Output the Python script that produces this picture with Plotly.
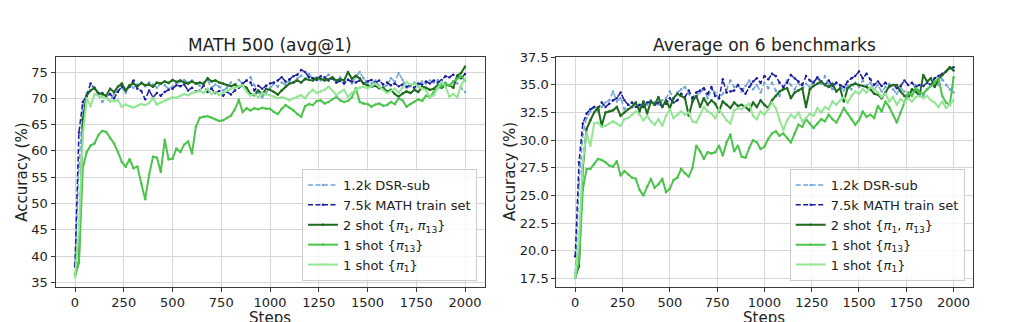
import plotly.graph_objects as go

steps = list(range(0, 2001, 20))

# ---- MATH 500 (avg@1) ----
math500_dsr_sub = [
    38.5, 57.0, 68.5, 71.0, 71.5, 72.0, 70.5, 69.3, 70.1, 69.5,
    70.8, 71.5, 72.0, 71.0, 72.5, 72.0, 72.6, 73.0, 72.3, 73.0,
    72.6, 72.0, 72.8, 72.5, 71.8, 72.2, 72.8, 73.2, 73.5, 73.0,
    73.4, 72.8, 72.4, 73.0, 73.5, 72.0, 72.6, 72.2, 71.5, 72.0,
    73.0, 72.5, 73.5, 72.8, 73.4, 74.0, 72.5, 71.0, 70.2, 71.0,
    72.0, 72.8, 72.2, 73.0, 72.6, 73.4, 73.0, 73.8, 74.3, 73.5,
    74.6, 73.8, 74.0, 73.4, 73.8, 74.5, 73.8, 73.0, 74.0, 73.2,
    73.6, 72.8, 74.0, 75.0, 73.8, 73.0, 72.8, 73.4, 72.4, 72.0,
    72.5, 73.8, 73.2, 74.8, 73.5, 72.0, 72.3, 73.0, 72.4, 73.2,
    72.8, 73.4, 73.0, 73.5, 72.6, 73.0, 72.5, 73.2, 72.8, 72.0,
    71.2,
]
math500_math_train = [
    38.0, 63.5, 69.3, 70.5, 72.8, 71.8, 70.8, 71.0, 70.3, 70.8,
    70.0, 71.2, 72.3, 71.5, 72.2, 73.4, 71.8, 71.4, 69.8, 71.5,
    70.2, 71.0, 70.5, 71.2, 71.6, 71.8, 72.5, 72.3, 72.6, 71.5,
    72.0, 71.3, 71.5, 72.4, 71.2, 71.8, 71.0, 71.4, 70.5, 71.2,
    70.7, 71.5, 72.0, 72.8, 73.4, 73.0, 71.5, 72.4, 71.8, 72.4,
    72.8, 73.0, 73.4, 74.0, 73.2, 73.6, 74.2, 74.5, 75.4, 75.0,
    74.0, 73.8, 73.5, 74.2, 74.0, 73.4, 73.8, 73.0, 73.3, 72.8,
    73.5, 73.2, 73.0, 73.4, 72.8, 73.2, 73.5, 73.0, 73.4, 72.6,
    73.0, 72.5, 72.8, 72.3, 72.6, 72.2, 72.5, 72.0, 72.8, 72.6,
    73.2, 72.8, 73.4, 73.0, 73.5, 74.2, 74.0, 74.5, 74.2, 73.8,
    74.6,
]
math500_two_shot = [
    36.5, 38.8, 66.0, 70.5, 71.5, 72.0, 71.0, 70.8, 70.5, 71.8,
    71.2, 72.2, 72.8, 71.5, 72.5, 72.8, 72.3, 72.9, 72.5, 72.6,
    72.2, 73.0, 72.8, 73.2, 72.9, 73.5, 73.1, 73.4, 73.0, 72.8,
    73.2, 72.8, 73.0, 72.7, 73.8, 73.2, 73.4, 73.0, 72.8, 72.5,
    72.3, 72.6, 72.1, 72.4, 72.0, 70.8, 70.6, 71.5, 70.8, 71.8,
    71.6, 71.2, 70.7, 71.5, 72.2, 72.8, 73.0, 73.4, 73.0, 73.7,
    73.5, 73.4, 73.8, 73.7, 73.4, 73.6, 74.0, 73.4, 73.6, 73.4,
    75.0, 73.7, 74.3, 73.8, 72.8, 72.5, 72.2, 72.4, 71.9, 72.0,
    71.3, 71.6, 70.8, 70.3, 70.9, 71.3, 71.0, 71.6, 71.2, 72.2,
    72.0, 71.6, 71.8, 72.5, 72.0, 72.5, 72.5, 72.0, 74.3, 74.8,
    76.0,
]
math500_one_shot_p13 = [
    36.0, 38.9, 56.7, 59.8, 61.0, 61.4, 63.0, 63.8, 63.6, 62.4,
    61.4, 59.8, 57.9, 57.0, 58.4, 56.7, 57.0, 53.8, 50.8, 55.4,
    58.9, 58.7, 56.0, 62.1, 58.4, 58.5, 60.4, 59.8, 61.2, 61.8,
    59.5, 64.6, 66.3, 66.5, 66.6, 66.3, 66.0, 65.7, 65.8, 66.3,
    66.7, 67.9, 69.7, 67.4, 68.1, 67.7, 68.1, 67.9, 68.2, 68.0,
    68.0, 67.4, 67.0, 68.0, 68.7, 68.2, 67.7, 67.0, 66.5, 68.5,
    68.9, 68.7, 69.5, 69.6, 69.0, 69.3, 69.8, 70.3, 69.6, 69.3,
    69.5, 70.2, 71.9, 69.3, 69.0, 68.9, 68.4, 68.8, 69.0, 68.6,
    68.7, 69.3, 68.9, 70.0, 69.6, 68.4, 68.9, 69.3, 69.8, 69.5,
    70.5, 70.2, 71.2, 71.9, 72.3, 72.8, 72.4, 73.2, 73.7, 74.2,
    73.4,
]
math500_one_shot_p1 = [
    36.0, 45.0, 63.0, 70.0, 68.5, 70.8, 70.5, 70.2, 70.0, 69.4,
    69.5, 69.6, 68.4, 68.8, 68.5, 68.2, 68.6, 68.9, 68.7, 69.1,
    70.0, 68.8, 69.2, 69.5, 69.8, 70.2, 70.1, 70.5, 70.8, 70.6,
    71.0, 71.2, 71.4, 71.0, 71.8, 70.8, 71.2, 70.6, 71.0, 71.5,
    71.8, 72.0, 72.3, 72.5, 71.2, 70.5, 70.8, 70.2, 71.0, 70.7,
    70.6, 70.3, 70.0, 70.2, 70.0, 69.6, 70.0, 70.3, 70.6, 70.0,
    71.0, 71.6, 71.0, 71.3, 71.6, 72.2, 71.5, 70.6, 71.2, 71.6,
    70.3, 71.0, 71.6, 72.0, 72.2, 71.9, 72.3, 72.8, 72.2, 71.6,
    71.0, 71.4, 71.8, 71.0, 72.0, 73.1, 72.6, 72.8, 72.2, 71.9,
    71.5, 70.3, 70.6, 72.0, 73.1, 72.2, 70.3, 70.8, 70.2, 72.5,
    73.7,
]

# ---- Average on 6 benchmarks ----
avg6_dsr_sub = [
    18.0, 26.0, 30.5, 32.0, 32.6, 33.0, 32.6, 33.0, 33.4, 33.6,
    34.4, 33.5, 33.8, 32.8, 33.2, 33.0, 33.4, 33.0, 33.5, 33.2,
    33.6, 33.4, 33.2, 33.6, 33.8, 34.4, 33.8, 34.3, 34.6, 34.8,
    34.2, 33.6, 34.0, 34.3, 34.6, 33.8, 34.6, 34.3, 33.8, 34.2,
    34.6, 35.4, 34.8, 35.0, 34.4, 34.9, 35.4, 34.6, 35.0, 34.3,
    35.2, 34.7, 35.2, 34.5, 34.0, 34.7, 35.4, 35.0, 34.6, 35.2,
    34.6, 35.1, 34.8, 35.3, 35.6, 35.1, 35.8, 35.0, 34.6, 35.2,
    34.8, 34.5, 35.0, 34.6, 35.2, 34.8, 35.4, 34.9, 35.2, 34.6,
    35.0, 34.4, 34.8, 35.1, 34.6, 34.2, 34.8, 34.4, 33.9, 34.5,
    35.0, 34.4, 34.0, 34.6, 34.9, 35.3, 35.0, 35.5, 35.0, 34.6,
    34.3,
]
avg6_math_train = [
    19.5, 28.0, 31.5, 32.4, 32.8, 33.0, 32.8, 33.4, 33.0, 33.3,
    33.6, 33.8, 34.3, 33.6, 33.2, 33.4, 33.0, 33.2, 33.0, 33.4,
    33.5, 33.2, 33.4, 33.0, 33.3, 33.8, 33.4, 33.6, 34.2, 33.9,
    34.5, 33.8, 34.3, 34.5, 34.7, 34.2, 34.8, 34.0, 33.8, 35.5,
    34.3, 34.4, 34.5, 35.0, 34.6, 34.2, 34.8, 35.3, 35.6, 35.2,
    35.8, 35.5, 36.0, 35.8, 35.2, 34.8, 35.2, 35.9, 35.6, 35.3,
    35.0, 35.8, 35.4, 35.2, 35.7, 35.3, 35.0, 35.4, 34.9, 35.2,
    35.0, 34.8, 35.3, 35.6, 35.8, 36.2, 35.6, 36.0, 35.5, 35.0,
    35.3, 34.9, 35.2, 34.8, 35.0, 34.7, 34.9, 35.4, 35.0, 35.2,
    34.8, 35.0, 34.9, 35.2, 35.0, 35.6, 35.8, 36.0, 36.2, 36.5,
    36.6,
]
avg6_two_shot = [
    17.6, 18.6, 27.5, 31.0, 31.8, 32.5, 33.0, 31.3, 32.5, 32.6,
    32.7, 33.0, 32.2, 32.5, 32.8, 33.0, 33.4, 32.6, 33.5, 32.4,
    33.5, 33.2, 33.9, 33.0, 33.6, 32.9, 33.8, 34.2, 34.0, 33.8,
    32.2, 33.5, 34.0, 33.0, 33.8, 33.2, 33.6, 33.3, 32.6, 33.5,
    33.2, 32.9, 33.4, 33.1, 33.2, 33.0, 32.7, 33.4, 33.0, 33.6,
    33.2, 32.9, 33.6, 34.0, 34.4, 34.6, 34.7, 33.8, 34.3, 34.5,
    34.7, 33.0, 34.6, 34.9, 35.1, 35.3, 35.0, 34.8, 35.1, 34.4,
    34.7, 33.5, 34.7, 35.0, 35.1, 35.0, 34.9, 34.8, 34.6, 34.2,
    34.1, 33.8, 34.3, 34.9, 35.0, 35.0, 34.4, 34.0, 33.8, 34.6,
    34.4, 34.0, 35.9, 35.3, 35.6, 34.8, 35.5, 35.9, 36.2, 36.6,
    36.3,
]
avg6_one_shot_p13 = [
    17.6, 19.0, 25.5, 27.4, 27.4, 27.8, 28.3, 28.2, 28.0, 27.7,
    27.6, 28.1, 26.8, 27.2, 26.9, 26.6, 26.5, 25.5, 25.0, 25.8,
    26.5, 25.7, 26.0, 26.5, 25.3, 25.6, 26.4, 26.6, 27.4, 27.0,
    26.7, 27.5, 29.5, 29.0, 28.3, 28.9, 28.8, 28.9, 29.5, 28.6,
    29.8, 30.5, 29.0, 29.5, 28.5, 28.4, 29.3, 30.0, 29.8, 29.2,
    29.4, 30.1, 30.6, 30.8, 30.4, 30.6, 30.2, 29.8, 30.6, 31.4,
    31.2, 31.9, 31.5, 31.1, 31.5, 31.9, 31.7, 32.3, 31.9, 31.6,
    32.2, 32.9, 32.4, 31.9, 31.4, 31.8, 32.6, 32.1, 32.3, 32.0,
    33.1, 32.6, 33.5, 33.0, 32.3, 31.6, 32.5, 33.4, 34.3, 34.0,
    34.7, 34.3, 34.2, 34.6, 34.9, 35.2, 35.6, 34.0, 33.4, 33.2,
    35.7,
]
avg6_one_shot_p1 = [
    17.6, 21.0, 28.0, 30.7, 29.5, 31.5, 31.6, 31.2, 31.3, 31.5,
    31.7, 31.5, 31.3, 31.9, 32.0, 32.3, 32.6, 32.3, 31.8, 32.2,
    31.7, 31.4, 31.9, 31.3, 32.2, 32.8, 32.0, 32.3, 32.6, 32.3,
    32.5, 31.7, 31.6, 32.3, 33.0, 32.6, 32.4, 32.0, 32.8, 32.3,
    31.8, 31.5, 32.7, 32.9, 32.8, 33.1, 33.3, 32.2, 31.9, 32.6,
    32.3, 32.8, 33.4, 32.9, 31.8, 30.9, 31.8, 32.3, 32.0, 32.5,
    31.7, 32.0, 32.4, 32.2, 32.9, 32.5, 33.0, 32.8, 33.5, 33.2,
    33.6, 33.9, 33.4, 34.0, 34.4, 34.2, 34.6, 34.3, 34.8, 34.6,
    34.3, 33.9, 34.2, 33.5, 33.9, 33.2, 33.7, 33.4, 33.8, 33.5,
    33.9, 34.0, 33.8, 34.0, 33.6, 33.4, 33.0, 33.5, 32.9, 33.3,
    33.6,
]

series_names = [
    "1.2k DSR-sub",
    "7.5k MATH train set",
    "2 shot {<i>π</i><sub>1</sub>, <i>π</i><sub>13</sub>}",
    "1 shot {<i>π</i><sub>13</sub>}",
    "1 shot {<i>π</i><sub>1</sub>}",
]
series_colors = ["#6fa3d8", "#1a1a9c", "#1e6b1e", "#4cc44c", "#93e693"]
series_dash = ["dash", "dash", "solid", "solid", "solid"]
series_width = [1.5, 1.5, 2.0, 2.0, 2.0]

panels = [
    ("x", "y", "legend", [math500_dsr_sub, math500_math_train, math500_two_shot,
                          math500_one_shot_p13, math500_one_shot_p1]),
    ("x2", "y2", "legend2", [avg6_dsr_sub, avg6_math_train, avg6_two_shot,
                             avg6_one_shot_p13, avg6_one_shot_p1]),
]

FONT = "DejaVu Sans"
W, H = 1024, 322

fig = go.Figure()
for xa, ya, lg, data in panels:
    for name, vals, col, dash, lw in zip(series_names, data, series_colors,
                                          series_dash, series_width):
        fig.add_trace(go.Scatter(
            x=steps, y=vals, name=name, mode="lines+markers",
            line=dict(color=col, width=lw, dash="5px,2.5px" if dash == "dash" else "solid"),
            marker=dict(size=2.5, color=col),
            xaxis=xa, yaxis=ya, legend=lg,
        ))


def px_x(p):
    return p / W


def px_y(p):
    return 1 - p / H


axis_common = dict(
    showline=True, mirror=True, linecolor="#3a3a3a", linewidth=1,
    ticks="outside", ticklen=4, tickcolor="#3a3a3a", tickwidth=1,
    showgrid=True, gridcolor="#d6d6d6", gridwidth=1, zeroline=False,
    tickfont=dict(family=FONT, size=13, color="#222222"),
    automargin=False,
)
ydom = [px_y(286.7), px_y(56.7)]

fig.update_layout(
    width=W, height=H,
    margin=dict(l=0, r=0, t=0, b=0),
    paper_bgcolor="white", plot_bgcolor="white",
    font=dict(family=FONT, size=13, color="#222222"),
    xaxis=dict(domain=[px_x(55.5), px_x(484.5)], range=[-100, 2100],
               tickvals=list(range(0, 2001, 250)), anchor="y", **axis_common),
    yaxis=dict(domain=ydom, range=[34.16, 77.91],
               tickvals=[35, 40, 45, 50, 55, 60, 65, 70, 75], anchor="x", **axis_common),
    xaxis2=dict(domain=[px_x(556.3), px_x(972.5)], range=[-100, 2100],
                tickvals=list(range(0, 2001, 250)), anchor="y2", **axis_common),
    yaxis2=dict(domain=ydom, range=[16.74, 37.55],
                tickvals=[17.5, 20, 22.5, 25, 27.5, 30, 32.5, 35, 37.5],
                tickformat=".1f", anchor="x2", **axis_common),
    showlegend=True,
)

legend_common = dict(
    bgcolor="rgba(255,255,255,0.8)", bordercolor="#cccccc", borderwidth=1,
    font=dict(family=FONT, size=13, color="#222222"),
    xanchor="right", yanchor="bottom", itemwidth=30,
    tracegroupgap=0,
)
fig.update_layout(
    legend=dict(x=px_x(477), y=px_y(281), **legend_common),
    legend2=dict(x=px_x(964.7), y=px_y(281), **legend_common),
)

annotations = [
    dict(text="MATH 500 (avg@1)", x=px_x(270), y=px_y(45), font=dict(size=17)),
    dict(text="Average on 6 benchmarks", x=px_x(764), y=px_y(45), font=dict(size=17)),
    dict(text="Steps", x=px_x(270), y=px_y(318), font=dict(size=15)),
    dict(text="Steps", x=px_x(764), y=px_y(318), font=dict(size=15)),
    dict(text="Accuracy (%)", x=px_x(21.7), y=px_y(172), font=dict(size=15), textangle=-90),
    dict(text="Accuracy (%)", x=px_x(510), y=px_y(172), font=dict(size=15), textangle=-90),
]
for a in annotations:
    fig.add_annotation(xref="paper", yref="paper", showarrow=False,
                       xanchor="center", yanchor="middle",
                       font=dict(family=FONT, size=a["font"]["size"], color="#222222"),
                       text=a["text"], x=a["x"], y=a["y"],
                       textangle=a.get("textangle", 0))

fig.write_html("out.html")
